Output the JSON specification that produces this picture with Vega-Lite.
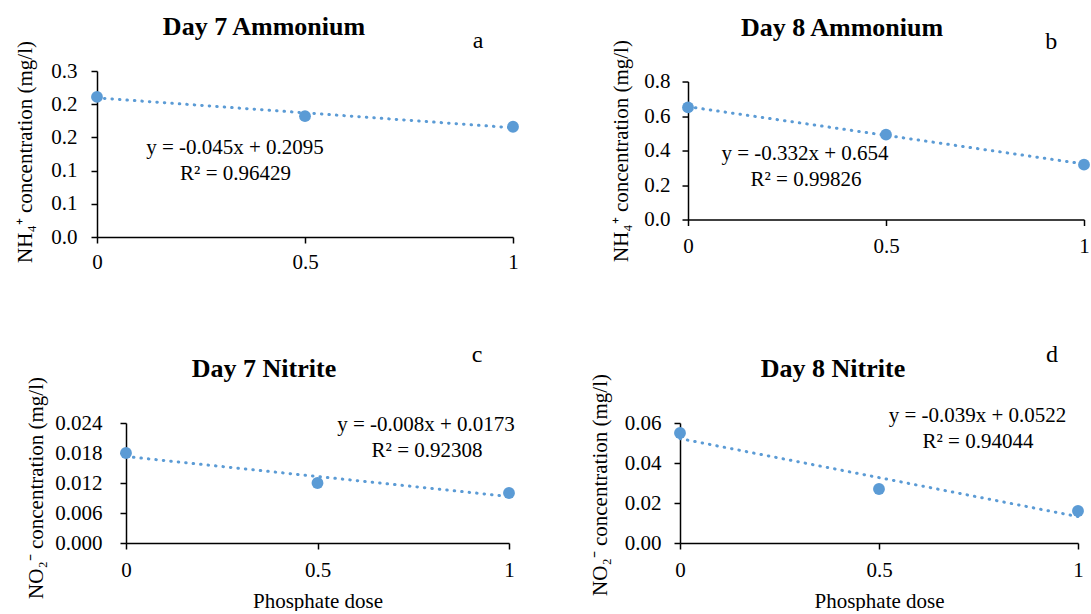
{
  "$schema": "https://vega.github.io/schema/vega-lite/v6.json",
  "padding": {"left": 14, "top": 14, "right": 0, "bottom": 0},
  "spacing": 70,
  "vconcat": [
    {
      "spacing": 91,
      "center": true,
      "hconcat": [
        {
          "width": 416,
          "height": 166,
          "data": {"values": [
            {"series": "observed", "dose": 0, "conc": 0.211},
            {"series": "observed", "dose": 0.5, "conc": 0.182},
            {"series": "observed", "dose": 1, "conc": 0.166},
            {"series": "trend", "dose": 0, "conc": 0.2095},
            {"series": "trend", "dose": 1, "conc": 0.1645}
          ]},
          "layer": [
            {"transform": [{"filter": "datum.series === 'trend'"}],
             "mark": {"type": "line", "color": "#5B9BD5", "strokeWidth": 3, "strokeDash": [0.5, 7], "strokeCap": "round"},
             "encoding": {
               "x": {"field": "dose", "type": "quantitative", "scale": {"domain": [0, 1], "nice": false, "zero": false},
                     "axis": {"values": [0, 0.5, 1], "format": "~g", "labelPadding": 8, "title": null}},
               "y": {"field": "conc", "type": "quantitative", "scale": {"domain": [0, 0.25], "nice": false},
                     "axis": {"values": [0, 0.05, 0.1, 0.15, 0.2, 0.25], "labelExpr": "format(datum.value + 1e-9, '.1f')", "labelPadding": 14, "title": "NH₄⁺ concentration (mg/l)", "titlePadding": 15.4, "titleY": 80.5}}
             }},
            {"transform": [{"filter": "datum.series === 'observed'"}],
             "mark": {"type": "point", "filled": true, "size": 140, "color": "#5B9BD5", "opacity": 1},
             "encoding": {
               "x": {"field": "dose", "type": "quantitative", "scale": {"domain": [0, 1], "nice": false, "zero": false},
                     "axis": {"values": [0, 0.5, 1], "format": "~g", "labelPadding": 8, "title": null}},
               "y": {"field": "conc", "type": "quantitative", "scale": {"domain": [0, 0.25], "nice": false},
                     "axis": {"values": [0, 0.05, 0.1, 0.15, 0.2, 0.25], "labelExpr": "format(datum.value + 1e-9, '.1f')", "labelPadding": 14, "title": "NH₄⁺ concentration (mg/l)", "titlePadding": 15.4, "titleY": 80.5}}
             }},
            {"data": {"values": [{"label": "Day 7 Ammonium"}]},
             "mark": {"type": "text", "font": "Liberation Serif", "fontSize": 26, "fontWeight": "bold", "align": "center", "baseline": "alphabetic", "color": "black"},
             "encoding": {"x": {"datum": 0.4014, "type": "quantitative", "scale": {"domain": [0, 1], "nice": false, "zero": false},
                                "axis": {"values": [0, 0.5, 1], "format": "~g", "labelPadding": 8, "title": null}},
                          "y": {"datum": 0.3042, "type": "quantitative", "scale": {"domain": [0, 0.25], "nice": false},
                                "axis": {"values": [0, 0.05, 0.1, 0.15, 0.2, 0.25], "labelExpr": "format(datum.value + 1e-9, '.1f')", "labelPadding": 14, "title": "NH₄⁺ concentration (mg/l)", "titlePadding": 15.4, "titleY": 80.5}},
                          "text": {"field": "label"}}},
            {"data": {"values": [{"label": "a"}]},
             "mark": {"type": "text", "font": "Liberation Serif", "fontSize": 24, "align": "center", "baseline": "alphabetic", "color": "black"},
             "encoding": {"x": {"datum": 0.916, "type": "quantitative", "scale": {"domain": [0, 1], "nice": false, "zero": false},
                                "axis": {"values": [0, 0.5, 1], "format": "~g", "labelPadding": 8, "title": null}},
                          "y": {"datum": 0.2846, "type": "quantitative", "scale": {"domain": [0, 0.25], "nice": false},
                                "axis": {"values": [0, 0.05, 0.1, 0.15, 0.2, 0.25], "labelExpr": "format(datum.value + 1e-9, '.1f')", "labelPadding": 14, "title": "NH₄⁺ concentration (mg/l)", "titlePadding": 15.4, "titleY": 80.5}},
                          "text": {"field": "label"}}},
            {"data": {"values": [{"label": "y = -0.045x + 0.2095"}]},
             "mark": {"type": "text", "font": "Liberation Serif", "fontSize": 21, "align": "center", "baseline": "alphabetic", "color": "black"},
             "encoding": {"x": {"datum": 0.3317, "type": "quantitative", "scale": {"domain": [0, 1], "nice": false, "zero": false},
                                "axis": {"values": [0, 0.5, 1], "format": "~g", "labelPadding": 8, "title": null}},
                          "y": {"datum": 0.125, "type": "quantitative", "scale": {"domain": [0, 0.25], "nice": false},
                                "axis": {"values": [0, 0.05, 0.1, 0.15, 0.2, 0.25], "labelExpr": "format(datum.value + 1e-9, '.1f')", "labelPadding": 14, "title": "NH₄⁺ concentration (mg/l)", "titlePadding": 15.4, "titleY": 80.5}},
                          "text": {"field": "label"}}},
            {"data": {"values": [{"label": "R² = 0.96429"}]},
             "mark": {"type": "text", "font": "Liberation Serif", "fontSize": 21, "align": "center", "baseline": "alphabetic", "color": "black"},
             "encoding": {"x": {"datum": 0.333, "type": "quantitative", "scale": {"domain": [0, 1], "nice": false, "zero": false},
                                "axis": {"values": [0, 0.5, 1], "format": "~g", "labelPadding": 8, "title": null}},
                          "y": {"datum": 0.0858, "type": "quantitative", "scale": {"domain": [0, 0.25], "nice": false},
                                "axis": {"values": [0, 0.05, 0.1, 0.15, 0.2, 0.25], "labelExpr": "format(datum.value + 1e-9, '.1f')", "labelPadding": 14, "title": "NH₄⁺ concentration (mg/l)", "titlePadding": 15.4, "titleY": 80.5}},
                          "text": {"field": "label"}}}
          ]
        },
        {
          "width": 396,
          "height": 138,
          "data": {"values": [
            {"series": "observed", "dose": 0, "conc": 0.65},
            {"series": "observed", "dose": 0.5, "conc": 0.492},
            {"series": "observed", "dose": 1, "conc": 0.318},
            {"series": "trend", "dose": 0, "conc": 0.654},
            {"series": "trend", "dose": 1, "conc": 0.322}
          ]},
          "layer": [
            {"transform": [{"filter": "datum.series === 'trend'"}],
             "mark": {"type": "line", "color": "#5B9BD5", "strokeWidth": 3, "strokeDash": [0.5, 7], "strokeCap": "round"},
             "encoding": {
               "x": {"field": "dose", "type": "quantitative", "scale": {"domain": [0, 1], "nice": false, "zero": false},
                     "axis": {"values": [0, 0.5, 1], "format": "~g", "labelPadding": 10, "title": null}},
               "y": {"field": "conc", "type": "quantitative", "scale": {"domain": [0, 0.8], "nice": false},
                     "axis": {"values": [0, 0.2, 0.4, 0.6, 0.8], "format": ".1f", "labelPadding": 12, "title": "NH₄⁺ concentration (mg/l)", "titlePadding": 12.35, "titleY": 69}}
             }},
            {"transform": [{"filter": "datum.series === 'observed'"}],
             "mark": {"type": "point", "filled": true, "size": 140, "color": "#5B9BD5", "opacity": 1},
             "encoding": {
               "x": {"field": "dose", "type": "quantitative", "scale": {"domain": [0, 1], "nice": false, "zero": false},
                     "axis": {"values": [0, 0.5, 1], "format": "~g", "labelPadding": 10, "title": null}},
               "y": {"field": "conc", "type": "quantitative", "scale": {"domain": [0, 0.8], "nice": false},
                     "axis": {"values": [0, 0.2, 0.4, 0.6, 0.8], "format": ".1f", "labelPadding": 12, "title": "NH₄⁺ concentration (mg/l)", "titlePadding": 12.35, "titleY": 69}}
             }},
            {"data": {"values": [{"label": "Day 8 Ammonium"}]},
             "mark": {"type": "text", "font": "Liberation Serif", "fontSize": 26, "fontWeight": "bold", "align": "center", "baseline": "alphabetic", "color": "black"},
             "encoding": {"x": {"datum": 0.389, "type": "quantitative", "scale": {"domain": [0, 1], "nice": false, "zero": false},
                                "axis": {"values": [0, 0.5, 1], "format": "~g", "labelPadding": 10, "title": null}},
                          "y": {"datum": 1.0667, "type": "quantitative", "scale": {"domain": [0, 0.8], "nice": false},
                                "axis": {"values": [0, 0.2, 0.4, 0.6, 0.8], "format": ".1f", "labelPadding": 12, "title": "NH₄⁺ concentration (mg/l)", "titlePadding": 12.35, "titleY": 69}},
                          "text": {"field": "label"}}},
            {"data": {"values": [{"label": "b"}]},
             "mark": {"type": "text", "font": "Liberation Serif", "fontSize": 24, "align": "center", "baseline": "alphabetic", "color": "black"},
             "encoding": {"x": {"datum": 0.917, "type": "quantitative", "scale": {"domain": [0, 1], "nice": false, "zero": false},
                                "axis": {"values": [0, 0.5, 1], "format": "~g", "labelPadding": 10, "title": null}},
                          "y": {"datum": 0.9913, "type": "quantitative", "scale": {"domain": [0, 0.8], "nice": false},
                                "axis": {"values": [0, 0.2, 0.4, 0.6, 0.8], "format": ".1f", "labelPadding": 12, "title": "NH₄⁺ concentration (mg/l)", "titlePadding": 12.35, "titleY": 69}},
                          "text": {"field": "label"}}},
            {"data": {"values": [{"label": "y = -0.332x + 0.654"}]},
             "mark": {"type": "text", "font": "Liberation Serif", "fontSize": 21, "align": "center", "baseline": "alphabetic", "color": "black"},
             "encoding": {"x": {"datum": 0.2955, "type": "quantitative", "scale": {"domain": [0, 1], "nice": false, "zero": false},
                                "axis": {"values": [0, 0.5, 1], "format": "~g", "labelPadding": 10, "title": null}},
                          "y": {"datum": 0.3478, "type": "quantitative", "scale": {"domain": [0, 0.8], "nice": false},
                                "axis": {"values": [0, 0.2, 0.4, 0.6, 0.8], "format": ".1f", "labelPadding": 12, "title": "NH₄⁺ concentration (mg/l)", "titlePadding": 12.35, "titleY": 69}},
                          "text": {"field": "label"}}},
            {"data": {"values": [{"label": "R² = 0.99826"}]},
             "mark": {"type": "text", "font": "Liberation Serif", "fontSize": 21, "align": "center", "baseline": "alphabetic", "color": "black"},
             "encoding": {"x": {"datum": 0.298, "type": "quantitative", "scale": {"domain": [0, 1], "nice": false, "zero": false},
                                "axis": {"values": [0, 0.5, 1], "format": "~g", "labelPadding": 10, "title": null}},
                          "y": {"datum": 0.197, "type": "quantitative", "scale": {"domain": [0, 0.8], "nice": false},
                                "axis": {"values": [0, 0.2, 0.4, 0.6, 0.8], "format": ".1f", "labelPadding": 12, "title": "NH₄⁺ concentration (mg/l)", "titlePadding": 12.35, "titleY": 69}},
                          "text": {"field": "label"}}}
          ]
        }
      ]
    },
    {
      "spacing": 74,
      "hconcat": [
        {
          "width": 412,
          "height": 120,
          "data": {"values": [
            {"series": "observed", "dose": 0, "conc": 0.018},
            {"series": "observed", "dose": 0.5, "conc": 0.012},
            {"series": "observed", "dose": 1, "conc": 0.01},
            {"series": "trend", "dose": 0, "conc": 0.0173},
            {"series": "trend", "dose": 1, "conc": 0.0093}
          ]},
          "layer": [
            {"transform": [{"filter": "datum.series === 'trend'"}],
             "mark": {"type": "line", "color": "#5B9BD5", "strokeWidth": 3, "strokeDash": [0.5, 7], "strokeCap": "round"},
             "encoding": {
               "x": {"field": "dose", "type": "quantitative", "scale": {"domain": [0, 1], "range": [29, 412], "nice": false, "zero": false},
                     "axis": {"values": [0, 0.5, 1], "format": "~g", "labelPadding": 10, "title": "Phosphate dose", "titlePadding": 10}},
               "y": {"field": "conc", "type": "quantitative", "scale": {"domain": [0, 0.024], "nice": false},
                     "axis": {"values": [0, 0.006, 0.012, 0.018, 0.024], "format": ".3f", "labelPadding": 18, "title": "NO₂⁻ concentration (mg/l)", "titlePadding": 8.4, "titleY": 64.5, "offset": -29}}
             }},
            {"transform": [{"filter": "datum.series === 'observed'"}],
             "mark": {"type": "point", "filled": true, "size": 140, "color": "#5B9BD5", "opacity": 1},
             "encoding": {
               "x": {"field": "dose", "type": "quantitative", "scale": {"domain": [0, 1], "range": [29, 412], "nice": false, "zero": false},
                     "axis": {"values": [0, 0.5, 1], "format": "~g", "labelPadding": 10, "title": "Phosphate dose", "titlePadding": 10}},
               "y": {"field": "conc", "type": "quantitative", "scale": {"domain": [0, 0.024], "nice": false},
                     "axis": {"values": [0, 0.006, 0.012, 0.018, 0.024], "format": ".3f", "labelPadding": 18, "title": "NO₂⁻ concentration (mg/l)", "titlePadding": 8.4, "titleY": 64.5, "offset": -29}}
             }},
            {"data": {"values": [{"label": "Day 7 Nitrite"}]},
             "mark": {"type": "text", "font": "Liberation Serif", "fontSize": 26, "fontWeight": "bold", "align": "center", "baseline": "alphabetic", "color": "black"},
             "encoding": {"x": {"datum": 0.3603, "type": "quantitative", "scale": {"domain": [0, 1], "range": [29, 412], "nice": false, "zero": false},
                                "axis": {"values": [0, 0.5, 1], "format": "~g", "labelPadding": 10, "title": "Phosphate dose", "titlePadding": 10}},
                          "y": {"datum": 0.0332, "type": "quantitative", "scale": {"domain": [0, 0.024], "nice": false},
                                "axis": {"values": [0, 0.006, 0.012, 0.018, 0.024], "format": ".3f", "labelPadding": 18, "title": "NO₂⁻ concentration (mg/l)", "titlePadding": 8.4, "titleY": 64.5, "offset": -29}},
                          "text": {"field": "label"}}},
            {"data": {"values": [{"label": "c"}]},
             "mark": {"type": "text", "font": "Liberation Serif", "fontSize": 24, "align": "center", "baseline": "alphabetic", "color": "black"},
             "encoding": {"x": {"datum": 0.9164, "type": "quantitative", "scale": {"domain": [0, 1], "range": [29, 412], "nice": false, "zero": false},
                                "axis": {"values": [0, 0.5, 1], "format": "~g", "labelPadding": 10, "title": "Phosphate dose", "titlePadding": 10}},
                          "y": {"datum": 0.0362, "type": "quantitative", "scale": {"domain": [0, 0.024], "nice": false},
                                "axis": {"values": [0, 0.006, 0.012, 0.018, 0.024], "format": ".3f", "labelPadding": 18, "title": "NO₂⁻ concentration (mg/l)", "titlePadding": 8.4, "titleY": 64.5, "offset": -29}},
                          "text": {"field": "label"}}},
            {"data": {"values": [{"label": "y = -0.008x + 0.0173"}]},
             "mark": {"type": "text", "font": "Liberation Serif", "fontSize": 21, "align": "center", "baseline": "alphabetic", "color": "black"},
             "encoding": {"x": {"datum": 0.7833, "type": "quantitative", "scale": {"domain": [0, 1], "range": [29, 412], "nice": false, "zero": false},
                                "axis": {"values": [0, 0.5, 1], "format": "~g", "labelPadding": 10, "title": "Phosphate dose", "titlePadding": 10}},
                          "y": {"datum": 0.0224, "type": "quantitative", "scale": {"domain": [0, 0.024], "nice": false},
                                "axis": {"values": [0, 0.006, 0.012, 0.018, 0.024], "format": ".3f", "labelPadding": 18, "title": "NO₂⁻ concentration (mg/l)", "titlePadding": 8.4, "titleY": 64.5, "offset": -29}},
                          "text": {"field": "label"}}},
            {"data": {"values": [{"label": "R² = 0.92308"}]},
             "mark": {"type": "text", "font": "Liberation Serif", "fontSize": 21, "align": "center", "baseline": "alphabetic", "color": "black"},
             "encoding": {"x": {"datum": 0.786, "type": "quantitative", "scale": {"domain": [0, 1], "range": [29, 412], "nice": false, "zero": false},
                                "axis": {"values": [0, 0.5, 1], "format": "~g", "labelPadding": 10, "title": "Phosphate dose", "titlePadding": 10}},
                          "y": {"datum": 0.0172, "type": "quantitative", "scale": {"domain": [0, 0.024], "nice": false},
                                "axis": {"values": [0, 0.006, 0.012, 0.018, 0.024], "format": ".3f", "labelPadding": 18, "title": "NO₂⁻ concentration (mg/l)", "titlePadding": 8.4, "titleY": 64.5, "offset": -29}},
                          "text": {"field": "label"}}}
          ]
        },
        {
          "width": 398,
          "height": 120,
          "data": {"values": [
            {"series": "observed", "dose": 0, "conc": 0.055},
            {"series": "observed", "dose": 0.5, "conc": 0.027},
            {"series": "observed", "dose": 1, "conc": 0.016},
            {"series": "trend", "dose": 0, "conc": 0.0522},
            {"series": "trend", "dose": 1, "conc": 0.0132}
          ]},
          "layer": [
            {"transform": [{"filter": "datum.series === 'trend'"}],
             "mark": {"type": "line", "color": "#5B9BD5", "strokeWidth": 3, "strokeDash": [0.5, 7], "strokeCap": "round"},
             "encoding": {
               "x": {"field": "dose", "type": "quantitative", "scale": {"domain": [0, 1], "nice": false, "zero": false},
                     "axis": {"values": [0, 0.5, 1], "format": "~g", "labelPadding": 10, "title": "Phosphate dose", "titlePadding": 10}},
               "y": {"field": "conc", "type": "quantitative", "scale": {"domain": [0, 0.06], "nice": false},
                     "axis": {"values": [0, 0.02, 0.04, 0.06], "format": ".2f", "labelPadding": 13, "title": "NO₂⁻ concentration (mg/l)", "titlePadding": 13.5, "titleY": 61.5}}
             }},
            {"transform": [{"filter": "datum.series === 'observed'"}],
             "mark": {"type": "point", "filled": true, "size": 140, "color": "#5B9BD5", "opacity": 1},
             "encoding": {
               "x": {"field": "dose", "type": "quantitative", "scale": {"domain": [0, 1], "nice": false, "zero": false},
                     "axis": {"values": [0, 0.5, 1], "format": "~g", "labelPadding": 10, "title": "Phosphate dose", "titlePadding": 10}},
               "y": {"field": "conc", "type": "quantitative", "scale": {"domain": [0, 0.06], "nice": false},
                     "axis": {"values": [0, 0.02, 0.04, 0.06], "format": ".2f", "labelPadding": 13, "title": "NO₂⁻ concentration (mg/l)", "titlePadding": 13.5, "titleY": 61.5}}
             }},
            {"data": {"values": [{"label": "Day 8 Nitrite"}]},
             "mark": {"type": "text", "font": "Liberation Serif", "fontSize": 26, "fontWeight": "bold", "align": "center", "baseline": "alphabetic", "color": "black"},
             "encoding": {"x": {"datum": 0.3844, "type": "quantitative", "scale": {"domain": [0, 1], "nice": false, "zero": false},
                                "axis": {"values": [0, 0.5, 1], "format": "~g", "labelPadding": 10, "title": "Phosphate dose", "titlePadding": 10}},
                          "y": {"datum": 0.083, "type": "quantitative", "scale": {"domain": [0, 0.06], "nice": false},
                                "axis": {"values": [0, 0.02, 0.04, 0.06], "format": ".2f", "labelPadding": 13, "title": "NO₂⁻ concentration (mg/l)", "titlePadding": 13.5, "titleY": 61.5}},
                          "text": {"field": "label"}}},
            {"data": {"values": [{"label": "d"}]},
             "mark": {"type": "text", "font": "Liberation Serif", "fontSize": 24, "align": "center", "baseline": "alphabetic", "color": "black"},
             "encoding": {"x": {"datum": 0.9347, "type": "quantitative", "scale": {"domain": [0, 1], "nice": false, "zero": false},
                                "axis": {"values": [0, 0.5, 1], "format": "~g", "labelPadding": 10, "title": "Phosphate dose", "titlePadding": 10}},
                          "y": {"datum": 0.0905, "type": "quantitative", "scale": {"domain": [0, 0.06], "nice": false},
                                "axis": {"values": [0, 0.02, 0.04, 0.06], "format": ".2f", "labelPadding": 13, "title": "NO₂⁻ concentration (mg/l)", "titlePadding": 13.5, "titleY": 61.5}},
                          "text": {"field": "label"}}},
            {"data": {"values": [{"label": "y = -0.039x + 0.0522"}]},
             "mark": {"type": "text", "font": "Liberation Serif", "fontSize": 21, "align": "center", "baseline": "alphabetic", "color": "black"},
             "encoding": {"x": {"datum": 0.7475, "type": "quantitative", "scale": {"domain": [0, 1], "nice": false, "zero": false},
                                "axis": {"values": [0, 0.5, 1], "format": "~g", "labelPadding": 10, "title": "Phosphate dose", "titlePadding": 10}},
                          "y": {"datum": 0.0605, "type": "quantitative", "scale": {"domain": [0, 0.06], "nice": false},
                                "axis": {"values": [0, 0.02, 0.04, 0.06], "format": ".2f", "labelPadding": 13, "title": "NO₂⁻ concentration (mg/l)", "titlePadding": 13.5, "titleY": 61.5}},
                          "text": {"field": "label"}}},
            {"data": {"values": [{"label": "R² = 0.94044"}]},
             "mark": {"type": "text", "font": "Liberation Serif", "fontSize": 21, "align": "center", "baseline": "alphabetic", "color": "black"},
             "encoding": {"x": {"datum": 0.7487, "type": "quantitative", "scale": {"domain": [0, 1], "nice": false, "zero": false},
                                "axis": {"values": [0, 0.5, 1], "format": "~g", "labelPadding": 10, "title": "Phosphate dose", "titlePadding": 10}},
                          "y": {"datum": 0.0475, "type": "quantitative", "scale": {"domain": [0, 0.06], "nice": false},
                                "axis": {"values": [0, 0.02, 0.04, 0.06], "format": ".2f", "labelPadding": 13, "title": "NO₂⁻ concentration (mg/l)", "titlePadding": 13.5, "titleY": 61.5}},
                          "text": {"field": "label"}}}
          ]
        }
      ]
    }
  ],
  "config": {
    "view": {"stroke": null},
    "axis": {
      "domainColor": "black", "domainWidth": 1.5, "tickColor": "black", "tickWidth": 1.5, "tickSize": 6,
      "grid": false, "labelFont": "Liberation Serif", "labelFontSize": 21, "labelColor": "black",
      "titleFont": "Liberation Serif", "titleFontSize": 21, "titleFontWeight": "normal", "titleColor": "black",
      "labelFlush": false, "labelOverlap": false
    }
  }
}
